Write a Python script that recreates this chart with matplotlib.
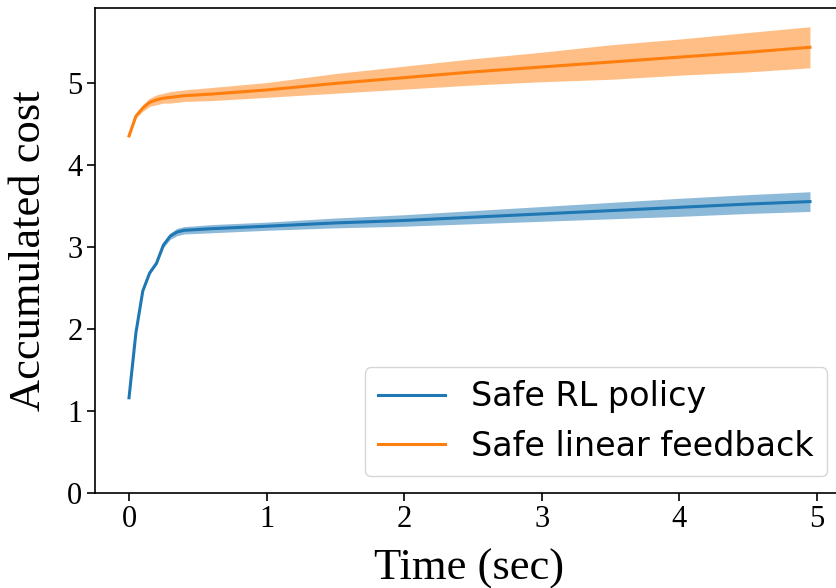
import numpy as np
import matplotlib
matplotlib.use("Agg")
import matplotlib.pyplot as plt

# time points (sec)
time = [0, 0.05, 0.1, 0.15, 0.2, 0.25, 0.3, 0.35, 0.4, 0.6, 1.0, 1.5,
        2.0, 2.5, 3.0, 3.5, 4.0, 4.5, 4.95]

# Safe RL policy: mean and half band
rl_mean = [1.16, 1.95, 2.46, 2.68, 2.80, 3.02, 3.13, 3.18, 3.20, 3.22, 3.25,
           3.29, 3.32, 3.36, 3.40, 3.44, 3.48, 3.52, 3.55]
rl_band = [0.0, 0.01, 0.01, 0.015, 0.02, 0.03, 0.04, 0.045, 0.045, 0.05,
           0.05, 0.06, 0.07, 0.08, 0.09, 0.10, 0.11, 0.115, 0.12]

# Safe linear feedback: mean and half band
lin_mean = [4.35, 4.59, 4.69, 4.76, 4.79, 4.81, 4.82, 4.83, 4.84, 4.86, 4.91,
            4.99, 5.06, 5.13, 5.19, 5.25, 5.31, 5.37, 5.43]
lin_band = [0.0, 0.02, 0.04, 0.05, 0.06, 0.06, 0.07, 0.07, 0.07, 0.08, 0.09,
            0.12, 0.14, 0.16, 0.18, 0.21, 0.22, 0.24, 0.25]

labels = ["Safe RL policy", "Safe linear feedback"]

fig = plt.figure(figsize=(8.36, 5.88), dpi=100)
ax = fig.add_axes([0.1136, 0.1616, 0.896, 0.825])

t = np.array(time)
for mean, band, color, label in [(rl_mean, rl_band, "C0", labels[0]),
                                 (lin_mean, lin_band, "C1", labels[1])]:
    m = np.array(mean)
    b = np.array(band)
    ax.plot(t, m, color=color, lw=2.2, label=label)
    ax.fill_between(t, m - b, m + b, color=color, alpha=0.5, lw=0)

ax.set_xlim(-0.2475, 5.1975)
ax.set_ylim(0, 5.91)
ax.set_xticks([0, 1, 2, 3, 4, 5])
ax.set_yticks([0, 1, 2, 3, 4, 5])

serif = "Liberation Serif"
for lbl in ax.get_xticklabels() + ax.get_yticklabels():
    lbl.set_fontfamily(serif)
    lbl.set_fontsize(22)
ax.tick_params(length=5.5, width=1.2)
for sp in ax.spines.values():
    sp.set_linewidth(1.2)

ax.set_xlabel("Time (sec)", fontfamily=serif, fontsize=32, labelpad=10)
ax.set_ylabel("Accumulated cost", fontfamily=serif, fontsize=32, labelpad=13)

ax.legend(loc="lower right", prop={"family": "DejaVu Sans", "size": 24})

fig.savefig("out.png", dpi=100)
